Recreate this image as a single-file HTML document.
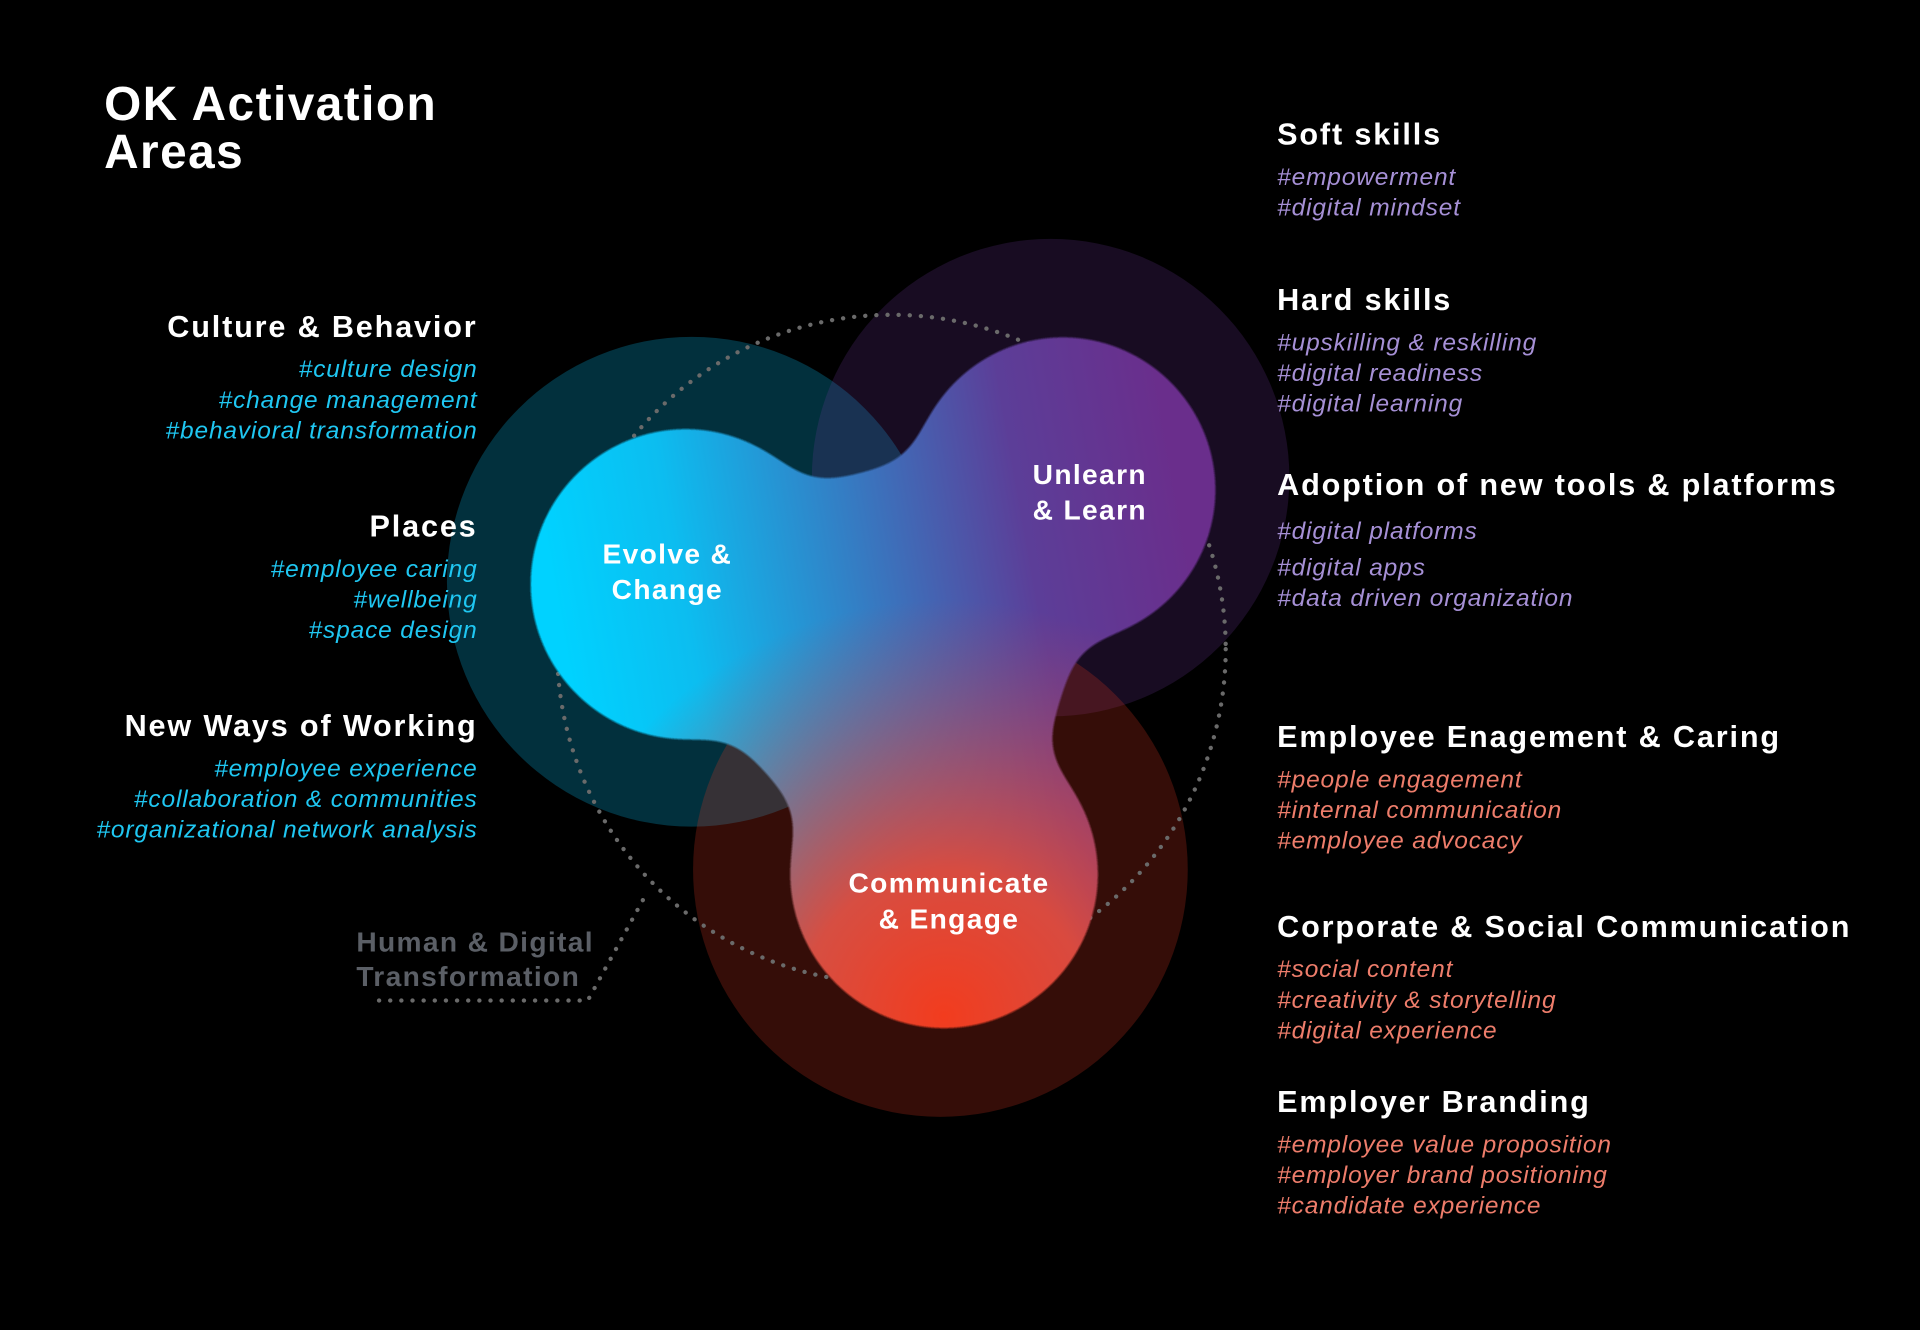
<!DOCTYPE html>
<html><head><meta charset="utf-8"><style>
html,body{margin:0;padding:0;background:#000;}
svg{display:block;}
text{font-family:"Liberation Sans",Arial,sans-serif;}
.h{font-weight:bold;fill:#fff;font-size:25px;letter-spacing:1.5px;}
.t{font-style:italic;font-size:20px;letter-spacing:0.7px;}
.c{fill:#1fc7f2;}
.p{fill:#a690d6;}
.r{fill:#ee7d6b;}
.m{font-weight:bold;fill:#fff;font-size:23px;text-anchor:middle;letter-spacing:1.1px;}
</style></head><body>
<svg width="1920" height="1330" viewBox="0 0 1568 1086" xmlns="http://www.w3.org/2000/svg">
<defs>
<filter id="goo" x="-20%" y="-20%" width="140%" height="140%">
<feGaussianBlur in="SourceGraphic" stdDeviation="20" result="b"/>
<feColorMatrix in="b" type="matrix" values="1 0 0 0 0  0 1 0 0 0  0 0 1 0 0  0 0 0 24 -11"/>
</filter>
<mask id="blob" maskUnits="userSpaceOnUse" x="0" y="0" width="1568" height="1086">
<g filter="url(#goo)" fill="#fff" stroke="#fff">
<circle cx="560" cy="477" r="127" stroke="none"/>
<circle cx="868" cy="400" r="125" stroke="none"/>
<circle cx="771" cy="714" r="126" stroke="none"/>
<polygon points="560,477 868,400 771,714" stroke-width="1"/>
<line x1="560" y1="477" x2="868" y2="400" stroke-width="105"/>
<line x1="868" y1="400" x2="771" y2="714" stroke-width="95"/>
<line x1="560" y1="477" x2="771" y2="714" stroke-width="105"/>
</g>
</mask>
<linearGradient id="g1" x1="450" y1="470" x2="960" y2="380" gradientUnits="userSpaceOnUse">
<stop offset="0" stop-color="#00d2ff"/>
<stop offset="0.2" stop-color="#0cbdf0"/>
<stop offset="0.75" stop-color="#5c3e98"/>
<stop offset="1" stop-color="#6a2e8c"/>
</linearGradient>
<radialGradient id="g2" cx="771" cy="830" r="340" gradientUnits="userSpaceOnUse">
<stop offset="0" stop-color="#f23c1e" stop-opacity="1"/>
<stop offset="0.35" stop-color="#e04a3a" stop-opacity="0.95"/>
<stop offset="1" stop-color="#c04050" stop-opacity="0"/>
</radialGradient>
</defs>
<rect width="1568" height="1086" fill="#000"/>
<circle cx="565" cy="475" r="200" fill="#02303d"/>
<circle cx="858" cy="390" r="195" fill="rgb(120,60,170)" fill-opacity="0.2"/>
<circle cx="768" cy="710" r="202" fill="rgb(220,55,35)" fill-opacity="0.24"/>
<circle cx="728" cy="530" r="273" fill="none" stroke="#6a6a6a" stroke-width="3.5" stroke-linecap="round" stroke-dasharray="0.1 9"/>
<polyline points="525,735 480,817 305,817" fill="none" stroke="#6a6a6a" stroke-width="3.5" stroke-linecap="round" stroke-dasharray="0.1 9"/>
<g mask="url(#blob)">
<rect width="1568" height="1086" fill="url(#g1)"/>
<rect width="1568" height="1086" fill="url(#g2)"/>
</g>
<text class="m" x="545" y="460">Evolve &amp;</text>
<text class="m" x="545" y="489">Change</text>
<text class="m" x="890" y="395">Unlearn</text>
<text class="m" x="890" y="424">&amp; Learn</text>
<text class="m" x="775" y="729">Communicate</text>
<text class="m" x="775" y="758">&amp; Engage</text>

<text x="85" y="98" font-weight="bold" fill="#fff" font-size="39" letter-spacing="1.2">OK Activation</text>
<text x="85" y="137" font-weight="bold" fill="#fff" font-size="39" letter-spacing="1.2">Areas</text>

<g text-anchor="end">
<text class="h" x="390" y="275">Culture &amp; Behavior</text>
<text class="t c" x="390" y="308">#culture design</text>
<text class="t c" x="390" y="333">#change management</text>
<text class="t c" x="390" y="358">#behavioral transformation</text>
<text class="h" x="390" y="438">Places</text>
<text class="t c" x="390" y="471">#employee caring</text>
<text class="t c" x="390" y="496">#wellbeing</text>
<text class="t c" x="390" y="521">#space design</text>
<text class="h" x="390" y="601">New Ways of Working</text>
<text class="t c" x="390" y="634">#employee experience</text>
<text class="t c" x="390" y="659">#collaboration &amp; communities</text>
<text class="t c" x="390" y="684">#organizational network analysis</text>
</g>
<text x="291" y="777" font-weight="bold" fill="#5b5f66" font-size="23" letter-spacing="1.1">Human &amp; Digital</text>
<text x="291" y="805" font-weight="bold" fill="#5b5f66" font-size="23" letter-spacing="1.1">Transformation</text>

<text class="h" x="1043" y="118">Soft skills</text>
<text class="t p" x="1043" y="151">#empowerment</text>
<text class="t p" x="1043" y="176">#digital mindset</text>
<text class="h" x="1043" y="253">Hard skills</text>
<text class="t p" x="1043" y="286">#upskilling &amp; reskilling</text>
<text class="t p" x="1043" y="311">#digital readiness</text>
<text class="t p" x="1043" y="336">#digital learning</text>
<text class="h" x="1043" y="404">Adoption of new tools &amp; platforms</text>
<text class="t p" x="1043" y="440">#digital platforms</text>
<text class="t p" x="1043" y="470">#digital apps</text>
<text class="t p" x="1043" y="495">#data driven organization</text>
<text class="h" x="1043" y="610">Employee Enagement &amp; Caring</text>
<text class="t r" x="1043" y="643">#people engagement</text>
<text class="t r" x="1043" y="668">#internal communication</text>
<text class="t r" x="1043" y="693">#employee advocacy</text>
<text class="h" x="1043" y="765">Corporate &amp; Social Communication</text>
<text class="t r" x="1043" y="798">#social content</text>
<text class="t r" x="1043" y="823">#creativity &amp; storytelling</text>
<text class="t r" x="1043" y="848">#digital experience</text>
<text class="h" x="1043" y="908">Employer Branding</text>
<text class="t r" x="1043" y="941">#employee value proposition</text>
<text class="t r" x="1043" y="966">#employer brand positioning</text>
<text class="t r" x="1043" y="991">#candidate experience</text>
</svg>
</body></html>
